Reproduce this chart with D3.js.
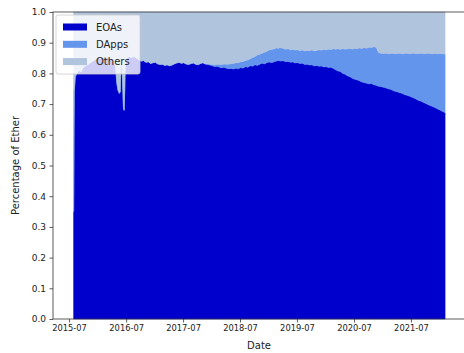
<!DOCTYPE html>
<html>
<head>
<meta charset="utf-8">
<script src="https://cdn.jsdelivr.net/npm/d3@7"></script>
<style>
  body { margin: 0; background: #fff; }
  text { font-family: "DejaVu Sans", sans-serif; fill: #222; }
</style>
</head>
<body>
<div class="chart"></div>
<script>
// series names and colours
const seriesNames = ["EOAs", "DApps", "Others"];
const seriesColors = ["#0000cd", "#6495ed", "#b0c4de"];

// sample dates (roughly twice a month, denser around the DAO period)
const dates = [
  "2015-07-30", "2015-08-03", "2015-08-10", "2015-08-20", "2015-09-01", "2015-09-15",
  "2015-10-01", "2015-10-15", "2015-11-01", "2015-11-15", "2015-12-01", "2015-12-15",
  "2016-01-01", "2016-01-15", "2016-02-01", "2016-02-15", "2016-03-01", "2016-03-15",
  "2016-04-01", "2016-04-15", "2016-04-25", "2016-05-02", "2016-05-10", "2016-05-18",
  "2016-05-24", "2016-05-28", "2016-06-04", "2016-06-09", "2016-06-14", "2016-06-18",
  "2016-06-22", "2016-06-26", "2016-07-05", "2016-07-20", "2016-08-05", "2016-08-20",
  "2016-09-05", "2016-09-20", "2016-10-05", "2016-10-20", "2016-11-05", "2016-11-20",
  "2016-12-05", "2016-12-20", "2017-01-05", "2017-01-20", "2017-02-05", "2017-02-20",
  "2017-03-05", "2017-03-20", "2017-04-05", "2017-04-20", "2017-05-05", "2017-05-20",
  "2017-06-05", "2017-06-20", "2017-07-05", "2017-07-20", "2017-08-05", "2017-08-20",
  "2017-09-05", "2017-09-20", "2017-10-05", "2017-10-20", "2017-11-05", "2017-11-20",
  "2017-12-05", "2017-12-20", "2018-01-05", "2018-01-20", "2018-02-05", "2018-02-20",
  "2018-03-05", "2018-03-20", "2018-04-05", "2018-04-20", "2018-05-05", "2018-05-20",
  "2018-06-05", "2018-06-20", "2018-07-05", "2018-07-20", "2018-08-05", "2018-08-20",
  "2018-09-05", "2018-09-20", "2018-10-05", "2018-10-20", "2018-11-05", "2018-11-20",
  "2018-12-05", "2018-12-20", "2019-01-05", "2019-01-20", "2019-02-05", "2019-02-20",
  "2019-03-05", "2019-03-20", "2019-04-05", "2019-04-20", "2019-05-05", "2019-05-20",
  "2019-06-05", "2019-06-20", "2019-07-05", "2019-07-20", "2019-08-05", "2019-08-20",
  "2019-09-05", "2019-09-20", "2019-10-05", "2019-10-20", "2019-11-05", "2019-11-20",
  "2019-12-05", "2019-12-20", "2020-01-05", "2020-01-20", "2020-02-05", "2020-02-20",
  "2020-03-05", "2020-03-20", "2020-04-05", "2020-04-20", "2020-05-05", "2020-05-20",
  "2020-06-05", "2020-06-20", "2020-07-05", "2020-07-20", "2020-08-05", "2020-08-20",
  "2020-09-05", "2020-09-20", "2020-10-05", "2020-10-20", "2020-11-05", "2020-11-20",
  "2020-12-05", "2020-12-20", "2021-01-05", "2021-01-20", "2021-02-05", "2021-02-20",
  "2021-03-05", "2021-03-20", "2021-04-05", "2021-04-20", "2021-05-05", "2021-05-20",
  "2021-06-05", "2021-06-20", "2021-07-05", "2021-07-20", "2021-08-05", "2021-08-20",
  "2021-09-05", "2021-09-20", "2021-10-05", "2021-10-20", "2021-11-05", "2021-11-20",
  "2021-12-05", "2021-12-20", "2022-01-05", "2022-01-20", "2022-02-05"
];

// share of ether held by EOAs, one per date
const eoaShare = [
  0.35, 0.74, 0.79, 0.80, 0.81, 0.805,
  0.82, 0.825, 0.83, 0.835, 0.84, 0.845,
  0.85, 0.848, 0.852, 0.85, 0.853, 0.85,
  0.848, 0.845, 0.82, 0.77, 0.745, 0.735,
  0.74, 0.83, 0.845, 0.76, 0.69, 0.68,
  0.75, 0.84, 0.85, 0.855, 0.852, 0.856,
  0.85, 0.845, 0.84, 0.842, 0.836, 0.838,
  0.832, 0.835, 0.836, 0.831, 0.829, 0.83,
  0.826, 0.828, 0.825, 0.827, 0.831, 0.834,
  0.836, 0.833, 0.835, 0.831, 0.829, 0.832,
  0.834, 0.83, 0.828, 0.832, 0.835, 0.831,
  0.829, 0.827, 0.825, 0.822, 0.823, 0.82,
  0.818, 0.82, 0.817, 0.815, 0.816, 0.814,
  0.817, 0.815, 0.819, 0.817, 0.822, 0.82,
  0.825, 0.823, 0.828, 0.826, 0.83, 0.833,
  0.831, 0.835, 0.837, 0.835, 0.838, 0.84,
  0.842, 0.84, 0.841, 0.838, 0.839, 0.836,
  0.837, 0.834, 0.835, 0.832, 0.833, 0.829,
  0.83, 0.827, 0.828, 0.824, 0.826, 0.823,
  0.824, 0.821, 0.822, 0.819, 0.82, 0.816,
  0.812, 0.808, 0.806, 0.80, 0.797, 0.792,
  0.789, 0.784, 0.781, 0.779, 0.776, 0.772,
  0.77, 0.768, 0.766, 0.767, 0.763, 0.761,
  0.758, 0.757, 0.755, 0.753, 0.75, 0.748,
  0.745, 0.742, 0.74, 0.737, 0.735, 0.731,
  0.729, 0.726, 0.723, 0.72, 0.716, 0.712,
  0.709, 0.705, 0.702, 0.698, 0.695, 0.691,
  0.688, 0.684, 0.68, 0.676, 0.672
];

// share held by DApps, from dappStart onwards (zero before)
const dappStart = "2017-12-05";
const dappShare = [
  0.002, 0.003, 0.004, 0.006, 0.007, 0.009,
  0.011, 0.011, 0.013, 0.015, 0.016, 0.018,
  0.018, 0.02, 0.019, 0.022, 0.02, 0.024,
  0.023, 0.029, 0.027, 0.034, 0.032, 0.033,
  0.038, 0.037, 0.039, 0.043, 0.042, 0.043,
  0.04, 0.044, 0.04, 0.041, 0.041, 0.041,
  0.041, 0.042, 0.042, 0.042, 0.043, 0.044,
  0.045, 0.047, 0.048, 0.049, 0.049, 0.054,
  0.052, 0.057, 0.055, 0.06, 0.058, 0.064,
  0.067, 0.072, 0.072, 0.081, 0.082, 0.088,
  0.092, 0.095, 0.101, 0.101, 0.107, 0.109,
  0.114, 0.114, 0.119, 0.117, 0.124, 0.124,
  0.11, 0.109, 0.11, 0.113, 0.114, 0.117,
  0.121, 0.122, 0.125, 0.129, 0.129, 0.134,
  0.137, 0.138, 0.142, 0.146, 0.148, 0.153,
  0.157, 0.159, 0.163, 0.168, 0.17, 0.173,
  0.177, 0.18, 0.185, 0.188, 0.191
];

const yTicks = [0, 0.1, 0.2, 0.3, 0.4, 0.5, 0.6, 0.7, 0.8, 0.9, 1.0];
const xTicks = ["2015-07", "2016-07", "2017-07", "2018-07", "2019-07", "2020-07", "2021-07"];

// layout (right spine falls just outside the picture, as in the original)
const W = 464, H = 353;
const M = { left: 53, right: 466, top: 12, bottom: 319 };

const parseDay = d3.timeParse("%Y-%m-%d");
const parseMonth = d3.timeParse("%Y-%m");

const offset = dates.indexOf(dappStart);
const rows = dates.map((d, i) => {
  const eoa = eoaShare[i];
  const dapp = i < offset ? 0 : dappShare[i - offset];
  return { date: parseDay(d), EOAs: eoa, DApps: dapp, Others: 1 - eoa - dapp };
});

const svg = d3.select(".chart").append("svg").attr("width", W).attr("height", H);

const x = d3.scaleTime()
  .domain([parseDay("2015-03-20"), parseDay("2022-06-19")])
  .range([M.left, M.right]);
const y = d3.scaleLinear().domain([0, 1]).range([M.bottom, M.top]);

const stack = d3.stack().keys(seriesNames);
const layers = stack(rows);

const area = d3.area()
  .x(d => x(d.data.date))
  .y0(d => y(d[0]))
  .y1(d => y(d[1]));

svg.append("g")
  .selectAll("path")
  .data(layers)
  .join("path")
  .attr("fill", (d, i) => seriesColors[i])
  .attr("stroke", (d, i) => seriesColors[i])
  .attr("stroke-width", 0.5)
  .attr("d", area);

// axes
const xAxis = svg.append("g")
  .attr("transform", `translate(0, ${M.bottom})`)
  .call(d3.axisBottom(x)
    .tickValues(xTicks.map(parseMonth))
    .tickFormat(d3.timeFormat("%Y-%m"))
    .tickSize(3.5)
    .tickPadding(3));
xAxis.selectAll("text").attr("font-size", 8.3);

const yAxis = svg.append("g")
  .attr("transform", `translate(${M.left}, 0)`)
  .call(d3.axisLeft(y)
    .tickValues(yTicks)
    .tickFormat(d3.format(".1f"))
    .tickSize(3.5)
    .tickPadding(3.5));
yAxis.selectAll("text").attr("font-size", 9);

svg.selectAll(".domain").remove();
svg.selectAll(".tick line").attr("stroke", "#333").attr("stroke-width", 0.8);

// spines
svg.append("rect")
  .attr("x", M.left).attr("y", M.top)
  .attr("width", M.right - M.left).attr("height", M.bottom - M.top)
  .attr("fill", "none").attr("stroke", "#333").attr("stroke-width", 0.8);

// axis labels
svg.append("text")
  .attr("x", 259)
  .attr("y", 349)
  .attr("text-anchor", "middle")
  .attr("font-size", 10)
  .text("Date");

svg.append("text")
  .attr("transform", `translate(19, ${(M.top + M.bottom) / 2}) rotate(-90)`)
  .attr("text-anchor", "middle")
  .attr("font-size", 10)
  .text("Percentage of Ether");

// legend
const legend = svg.append("g");
legend.append("rect")
  .attr("x", 56).attr("y", 15)
  .attr("width", 84).attr("height", 59)
  .attr("rx", 2)
  .attr("fill", "#fff").attr("fill-opacity", 0.8)
  .attr("stroke", "#ccc").attr("stroke-width", 0.8);

const items = legend.selectAll(".item")
  .data(seriesNames)
  .join("g")
  .attr("transform", (d, i) => `translate(0, ${27 + i * 17.3})`);

items.append("rect")
  .attr("x", 63).attr("y", -3.5)
  .attr("width", 24).attr("height", 7)
  .attr("fill", (d, i) => seriesColors[i]);

items.append("text")
  .attr("x", 96)
  .attr("dy", "0.35em")
  .attr("font-size", 10)
  .text(d => d);
</script>
</body>
</html>
